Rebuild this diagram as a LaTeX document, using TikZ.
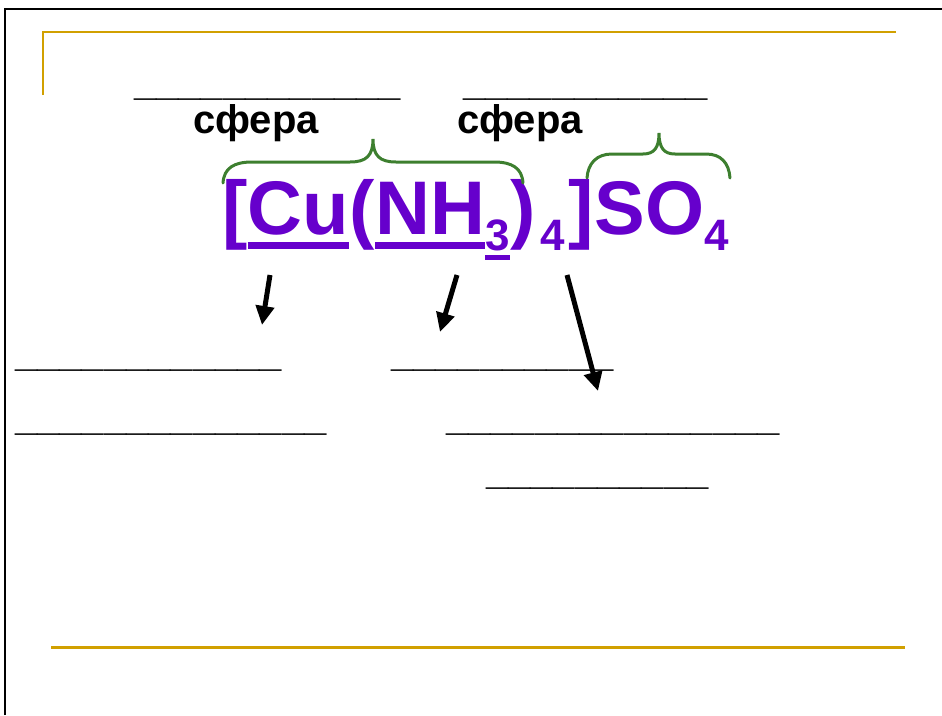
\documentclass[tikz,border=0pt]{standalone}
\usepackage{fontspec}
\setmainfont{Liberation Sans}
\usetikzlibrary{arrows.meta}

\definecolor{slidegold}{HTML}{D1A000}
\definecolor{formulapurple}{HTML}{6600CC}
\definecolor{bracegreen}{HTML}{3D7F2F}

% a row of underscores to be filled in
\newcommand\blankline[1]{\foreach\k in {1,...,#1}{\_}}

\begin{document}
\begin{tikzpicture}[
  x=1pt, y=-1pt,
  spheretext/.style={font=\fontsize{40}{40}\bfseries\selectfont, inner sep=0pt},
  blank/.style={spheretext, anchor=base west},
  formula/.style={font=\fontsize{76}{76}\bfseries\selectfont, text=formulapurple, inner sep=0pt, anchor=base west},
  index/.style={formula, font=\fontsize{44}{44}\bfseries\selectfont, yshift=-16pt},
  uline/.style={draw=formulapurple, line width=7pt},
  brace/.style={draw=bracegreen, line width=3pt, line cap=round},
  pointer/.style={line width=5pt, -{Triangle[length=19pt,width=18pt]}},
  gold rule/.style={draw=slidegold, line width=2pt}
]
\useasboundingbox (0,0) rectangle (942,715);

% slide frame
\draw[line width=2.5pt] (5,715) -- (5,9) -- (942,9);
\draw[gold rule] (43,95) -- (43,32) -- (896,32);
\draw[gold rule, line width=3pt] (51,647) -- (905,647);

% headings
\node[blank] (blankA) at (134,95) {\blankline{12}};
\node[blank] (blankB) at (463,95) {\blankline{11}};
\node[spheretext, anchor=base] (inner) at (256,133) {сфера};
\node[spheretext, anchor=base] (outer) at (520,133) {сфера};

% the formula
\node[formula] (lbr) at (222,234) {[};
\node[formula] (cu) at (lbr.base east) {Cu};
\node[formula] (lpar) at (cu.base east) {(};
\node[formula] (nh) at (lpar.base east) {NH};
\node[index] (n3) at (nh.base east) {3};
\node[formula] (rpar) at (n3.base east |- nh.base) {)};
\node[index, xshift=4pt] (n4) at (rpar.base east) {4};
\node[formula, xshift=4pt] (rbr) at (n4.base east |- nh.base) {]};
\node[formula] (so) at (rbr.base east) {SO};
\node[index] (s4) at (so.base east) {4};

\draw[uline] ([yshift=-11pt]cu.base west) -- ([yshift=-11pt]cu.base east);
\draw[uline] ([yshift=-11pt]nh.base west) -- ([yshift=-11pt]nh.base east);
\draw[uline, line width=5pt] ([yshift=-7.5pt]n3.base west) -- ([yshift=-7.5pt]n3.base east);

% braces over the two spheres
\draw[brace] (223,183) .. controls (224,168) and (234,162) .. (252,162) -- (350,162)
  .. controls (366,162) and (373,156) .. (373,139)
  .. controls (373,156) and (380,162) .. (396,162) -- (494,162)
  .. controls (512,162) and (522,168) .. (523,183);
\draw[brace] (587,178) .. controls (588,163) and (597,154) .. (612,154) -- (643,154)
  .. controls (654,154) and (659,148) .. (659,133)
  .. controls (659,148) and (664,154) .. (675,154) -- (706,154)
  .. controls (721,154) and (729,163) .. (730,178);

% arrows down to the answer lines
\coordinate (cu tail) at (270,275);
\coordinate (cu tip) at (262,325);
\coordinate (nh tail) at (457,275);
\coordinate (nh tip) at (440,332);
\coordinate (n4 tail) at (567,275);
\coordinate (n4 tip) at (598,391);
\draw[pointer] (cu tail) -- (cu tip);
\draw[pointer] (nh tail) -- (nh tip);
\draw[pointer] (n4 tail) -- (n4 tip);

% answer lines
\node[blank] (blankC) at (15,366) {\blankline{12}};
\node[blank] (blankD) at (391,366) {\blankline{10}};
\node[blank] (blankE) at (15,430) {\blankline{14}};
\node[blank] (blankF) at (446,430) {\blankline{15}};
\node[blank] (blankG) at (486,484) {\blankline{10}};
\end{tikzpicture}
\end{document}
